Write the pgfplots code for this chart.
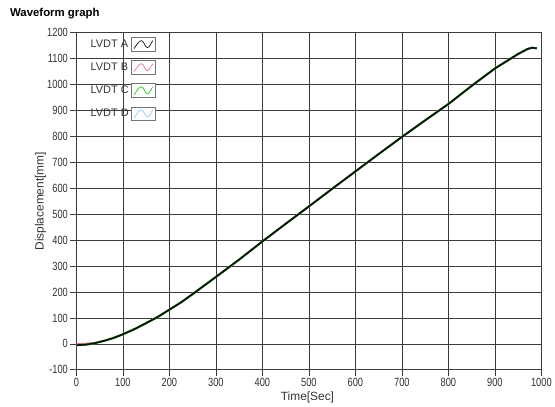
\documentclass[border=0pt]{standalone}
\usepackage{pgfplots}
\pgfplotsset{compat=1.18}
\usepackage{fontspec}
\setmainfont{Liberation Sans}
\newfontfamily\tickfont{Liberation Sans}[FakeStretch=0.78]
\definecolor{lvdtA}{RGB}{15,15,15}
\definecolor{lvdtB}{RGB}{225,120,150}
\definecolor{lvdtC}{RGB}{40,200,40}
\definecolor{lvdtD}{RGB}{150,200,235}
\definecolor{gridc}{RGB}{60,60,60}
\pgfplotstableread{
t y
0 -5
20 -3
40 3
60 12
80 23
100 37
125 57
150 80
175 104
200 132
225 160
250 192
275 225
300 258
350 325
400 395
450 463
500 530
550 598
600 665
650 732
700 798
750 862
800 925
850 995
900 1062
925 1090
950 1118
970 1137
980 1142
990 1140
}\dataA
\pgfplotstableread{
t y
0 -1
20 1
40 4
60 12
80 23
100 37
125 57
150 80
175 104
200 132
225 160
250 192
275 225
300 258
350 325
400 395
450 463
500 530
550 598
600 665
650 732
700 798
750 862
800 925
850 995
900 1062
925 1090
950 1118
970 1137
980 1142
990 1140
}\dataB
\begin{document}
\begin{tikzpicture}
\path (0pt,0pt) rectangle (555pt,409pt);
\node[anchor=base west, font=\bfseries\fontsize{11.5}{13}\selectfont, inner sep=0pt] at (10pt,392pt) {Waveform graph};
\begin{axis}[
  at={(77pt,36pt)}, anchor=south west,
  scale only axis, width=469pt, height=340pt,
  xmin=0, xmax=1000, ymin=-100, ymax=1200,
  xtick distance=100, ytick distance=100,
  xtick pos=bottom, ytick pos=left,
  tick align=outside, major tick length=6pt,
  grid=major,
  major grid style={gridc, line width=0.7pt},
  axis line style={gridc, line width=0.7pt},
  every tick/.style={gridc, line width=0.7pt},
  tick label style={font=\tickfont\fontsize{12}{14}\selectfont, text=black!80},
  /pgf/number format/assume math mode=true,
  /pgf/number format/1000 sep={},
  xticklabel style={yshift=1pt},
  yticklabel style={xshift=1pt},
  xlabel={Time[Sec]},
  ylabel={Displacement[mm]},
  x label style={at={(axis description cs:0.497,-0.082)}, anchor=center, font=\fontsize{12}{14}\selectfont, text=black!80},
  y label style={at={(axis description cs:-0.077,0.5)}, anchor=center, font=\fontsize{12}{14}\selectfont, text=black!80},
  legend plot pos=right,
  legend cell align=left,
  legend style={draw=none, fill=none, at={(axis description cs:0.024,0.99)}, anchor=north west,
    font=\fontsize{11}{13}\selectfont, row sep=8.5pt, inner sep=1pt,
    nodes={text=black!80}},
  legend image code/.code={
    \draw[black!55, line width=0.8pt, fill=white] (0pt,-7pt) rectangle (25pt,7pt);
    \draw[#1, line width=0.7pt] (3pt,-4pt) .. controls (6pt,0pt) and (8pt,4pt) .. (10.5pt,4pt)
      .. controls (13pt,4pt) and (14pt,-3pt) .. (16.5pt,-3pt)
      .. controls (19pt,-3pt) and (20pt,2pt) .. (22pt,4pt);
  },
]
\addlegendimage{lvdtA}\addlegendentry{LVDT A}
\addlegendimage{lvdtB}\addlegendentry{LVDT B}
\addlegendimage{lvdtC}\addlegendentry{LVDT C}
\addlegendimage{lvdtD}\addlegendentry{LVDT D}
\addplot[lvdtD, line width=1.8pt, forget plot] table[x=t,y=y] {\dataA};
\addplot[lvdtB, line width=1.8pt, forget plot] table[x=t,y=y] {\dataB};
\addplot[lvdtC, line width=2.1pt, forget plot] table[x=t,y=y] {\dataA};
\addplot[lvdtA, line width=1.7pt, forget plot] table[x=t,y=y] {\dataA};
\end{axis}
\end{tikzpicture}
\end{document}
